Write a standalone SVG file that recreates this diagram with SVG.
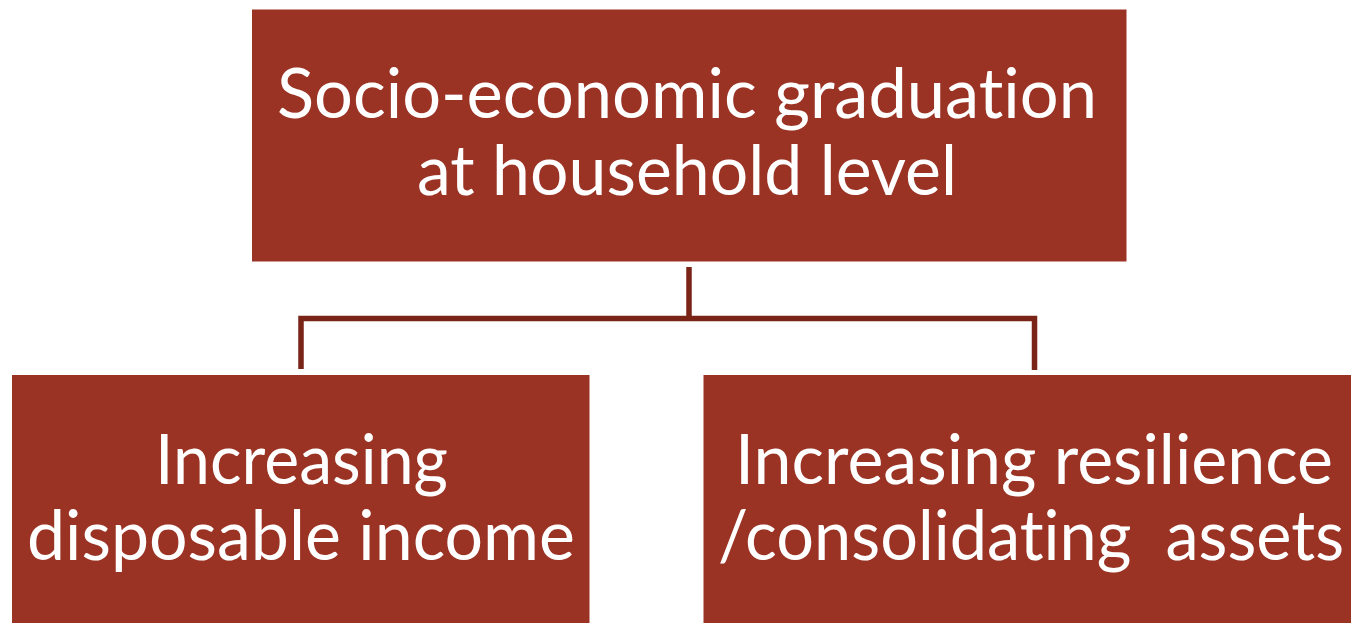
<svg xmlns="http://www.w3.org/2000/svg" width="1351" height="623" viewBox="0 0 1351 623">
  <style>
    .box { fill: #9A3324; }
    .lbl { fill: #FFFFFF; font-family: "Lato", "Open Sans", "Liberation Sans", sans-serif; font-size: 70px; text-anchor: middle; white-space: pre; font-variant-ligatures: none; font-feature-settings: "liga" 0, "clig" 0, "dlig" 0; }
    .link { fill: none; stroke: #7A2418; stroke-width: 5.5; stroke-linecap: butt; stroke-linejoin: miter; }
  </style>
  <rect width="1351" height="623" fill="#FFFFFF"/>

  <!-- tree connectors -->
  <g id="connectors">
    <path class="link" d="M689 267 V318.5"/>
    <path class="link" d="M301 369 V318.5 H1034.5 V370"/>
  </g>

  <g id="node-graduation">
    <rect class="box" x="252" y="9.5" width="874.5" height="252"/>
    <text class="lbl" x="687" y="118" textLength="820" lengthAdjust="spacingAndGlyphs">Socio-economic graduation</text>
    <text class="lbl" x="687" y="195" textLength="540" lengthAdjust="spacingAndGlyphs">at household level</text>
  </g>

  <g id="node-income">
    <rect class="box" x="12" y="375" width="577.5" height="248"/>
    <text class="lbl" x="301.5" y="484" textLength="293" lengthAdjust="spacingAndGlyphs">Increasing</text>
    <text class="lbl" x="301" y="560" textLength="548" lengthAdjust="spacingAndGlyphs">disposable income</text>
  </g>

  <g id="node-resilience">
    <rect class="box" x="703.5" y="375" width="647.5" height="248"/>
    <text class="lbl" x="1034" y="484" textLength="598" lengthAdjust="spacingAndGlyphs">Increasing resilience</text>
    <text class="lbl" x="1031" y="560" textLength="626" lengthAdjust="spacingAndGlyphs">/consolidating  assets</text>
  </g>
</svg>
